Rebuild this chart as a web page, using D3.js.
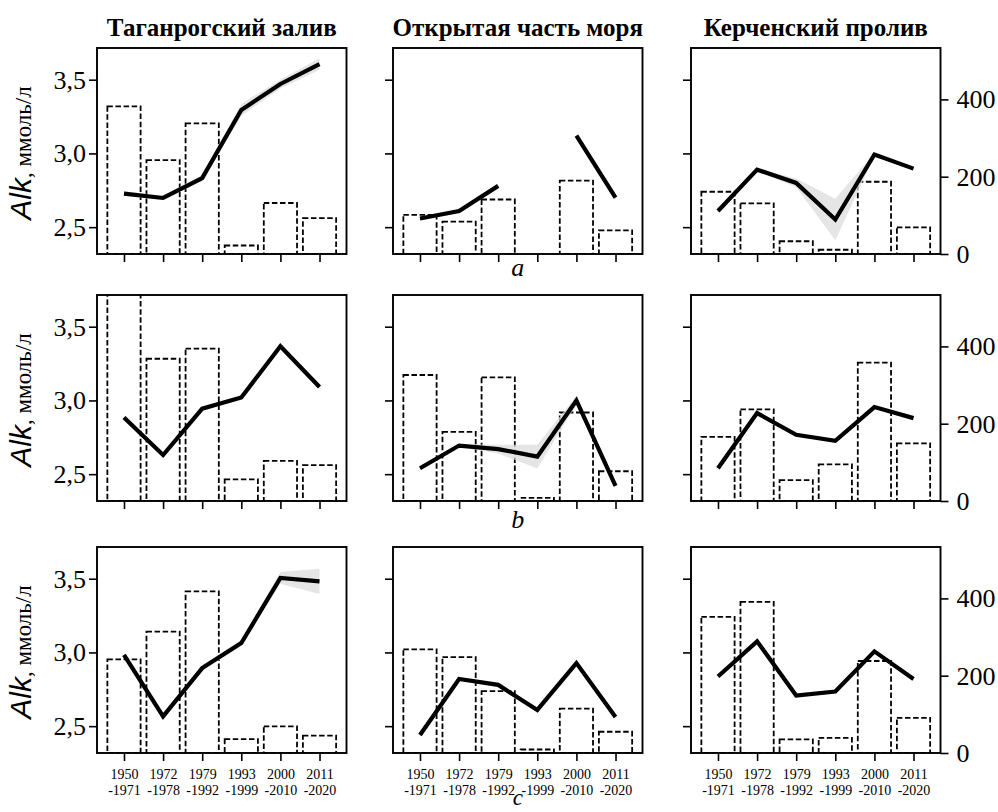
<!DOCTYPE html>
<html>
<head>
<meta charset="utf-8">
<script src="https://cdn.jsdelivr.net/npm/d3@7"></script>
<style>
  body { margin: 0; background: #fff; }
  svg { display: block; }
  .serif { font-family: "Liberation Serif", "DejaVu Serif", serif; }
  .sans { font-family: "Liberation Sans", "DejaVu Sans", sans-serif; }
</style>
</head>
<body>
<svg id="chart" width="998" height="812"></svg>
<script>
// ---------- DATA ----------
const regions = ["Таганрогский залив", "Открытая часть моря", "Керченский пролив"];
const rowLabels = ["a", "b", "c"];
const periodStart = ["1950", "1972", "1979", "1993", "2000", "2011"];
const periodEnd = ["-1971", "-1978", "-1992", "-1999", "-2010", "-2020"];
const alkTicks = [2.5, 3.0, 3.5];
const countTicks = [0, 200, 400];

// Alk means (mmol/l) per row: [Taganrog, Open sea, Kerch]
const alkA_tag   = [2.728, 2.698, 2.833, 3.295, 3.471, 3.606];
const alkA_open  = [2.559, 2.610, 2.780, null, 3.120, 2.700];
const alkA_kerch = [2.610, 2.890, 2.800, 2.552, 2.993, 2.897];
const alkB_tag   = [2.884, 2.630, 2.944, 3.020, 3.367, 3.091];
const alkB_open  = [2.540, 2.694, 2.670, 2.619, 3.000, 2.420];
const alkB_kerch = [2.540, 2.914, 2.767, 2.726, 2.955, 2.880];
const alkC_tag   = [2.984, 2.566, 2.894, 3.064, 3.505, 3.482];
const alkC_open  = [2.440, 2.820, 2.780, 2.610, 2.928, 2.562];
const alkC_kerch = [2.837, 3.075, 2.708, 2.735, 3.007, 2.820];

// confidence half-widths
const ciA_tag   = [0.015, 0.015, 0.02, 0.04, 0.03, 0.04];
const ciA_open  = [0.01, 0.01, 0.01, null, 0.01, 0.02];
const ciA_kerch = [0.01, 0.01, 0.03, 0.14, 0.01, 0.01];
const ciB_tag   = [0.01, 0.01, 0.01, 0.015, 0.015, 0.01];
const ciB_open  = [0.01, 0.01, 0.03, 0.08, 0.03, 0.02];
const ciB_kerch = [0.01, 0.01, 0.01, 0.01, 0.01, 0.01];
const ciC_tag   = [0.01, 0.01, 0.02, 0.02, 0.04, 0.085];
const ciC_open  = [0.01, 0.01, 0.015, 0.01, 0.015, 0.01];
const ciC_kerch = [0.01, 0.01, 0.015, 0.01, 0.01, 0.01];

// number of measurements (right axis)
const cntA_tag   = [382, 243, 338, 22, 132, 93];
const cntA_open  = [101, 84, 141, 0, 190, 61];
const cntA_kerch = [161, 131, 33, 11, 187, 69];
const cntB_tag   = [620, 368, 394, 56, 104, 93];
const cntB_open  = [326, 179, 320, 8, 229, 77];
const cntB_kerch = [166, 237, 54, 95, 358, 149];
const cntC_tag   = [242, 314, 418, 36, 69, 45];
const cntC_open  = [268, 248, 160, 9, 115, 55];
const cntC_kerch = [352, 391, 35, 39, 238, 91];

const alkRows = [[alkA_tag, alkA_open, alkA_kerch], [alkB_tag, alkB_open, alkB_kerch], [alkC_tag, alkC_open, alkC_kerch]];
const ciRows  = [[ciA_tag, ciA_open, ciA_kerch], [ciB_tag, ciB_open, ciB_kerch], [ciC_tag, ciC_open, ciC_kerch]];
const cntRows = [[cntA_tag, cntA_open, cntA_kerch], [cntB_tag, cntB_open, cntB_kerch], [cntC_tag, cntC_open, cntC_kerch]];

// ---------- LAYOUT ----------
const colX = [97, 393, 691];
const rowY = [48, 295, 547];
const pw = 249.5, ph = 206;

const svg = d3.select("#chart");

const x = d3.scaleLinear().domain([-0.69, 5.69]).range([0, pw]);
const yL = d3.scaleLinear().domain([2.318, 3.715]).range([ph, 0]);
const yR = d3.scaleLinear().domain([0, 533]).range([ph, 0]);

const defs = svg.append("defs");
defs.append("clipPath").attr("id", "clip").append("rect").attr("width", pw).attr("height", ph);

// Titles
regions.forEach((t, c) => {
  svg.append("text").attr("class", "serif")
    .attr("x", colX[c] + pw / 2).attr("y", 36)
    .attr("text-anchor", "middle")
    .style("font-weight", "bold").style("font-size", "25px")
    .text(t);
});

const barW = 0.85;

for (let r = 0; r < 3; r++) {
  for (let c = 0; c < 3; c++) {
    const g = svg.append("g").attr("transform", `translate(${colX[c]},${rowY[r]})`);
    const alk = alkRows[r][c], ci = ciRows[r][c], cnt = cntRows[r][c];
    const pts = alk.map((v, i) => ({ i, v, lo: v == null ? null : v - ci[i], hi: v == null ? null : v + ci[i], n: cnt[i] }));

    const inner = g.append("g").attr("clip-path", "url(#clip)");

    // bars
    inner.selectAll("rect.bar").data(pts.filter(d => d.n > 0)).join("rect")
      .attr("class", "bar")
      .attr("x", d => x(d.i - barW / 2))
      .attr("width", x(barW) - x(0))
      .attr("y", d => yR(d.n))
      .attr("height", d => yR(0) - yR(d.n))
      .attr("fill", "none")
      .attr("stroke", "#000")
      .attr("stroke-width", 1.8)
      .attr("stroke-dasharray", "5.5,2.6");

    // band
    const area = d3.area().defined(d => d.v != null)
      .x(d => x(d.i)).y0(d => yL(d.lo)).y1(d => yL(d.hi));
    inner.append("path").datum(pts).attr("d", area)
      .attr("fill", "#dcdcdc").attr("fill-opacity", 0.75).attr("stroke", "none");

    // line
    const line = d3.line().defined(d => d.v != null).x(d => x(d.i)).y(d => yL(d.v));
    inner.append("path").datum(pts).attr("d", line)
      .attr("fill", "none").attr("stroke", "#000").attr("stroke-width", 4.2)
      .attr("stroke-linejoin", "miter");

    // left axis
    const axL = d3.axisLeft(yL).tickValues(alkTicks).tickSize(8).tickPadding(3)
      .tickFormat(c === 0 ? (d => d3.format(".1f")(d).replace(".", ",")) : () => "");
    const gl = g.append("g").call(axL);
    gl.attr("font-family", null);
    gl.select(".domain").remove();
    gl.selectAll(".tick line").attr("stroke-width", 1.6);
    gl.selectAll(".tick text").attr("class", "serif").style("font-size", "26px").attr("fill", "#000");

    // right axis
    if (c === 2) {
      const axR = d3.axisRight(yR).tickValues(countTicks).tickSize(8).tickPadding(8);
      const gr = g.append("g").attr("transform", `translate(${pw},0)`).call(axR);
      gr.attr("font-family", null);
      gr.select(".domain").remove();
      gr.selectAll(".tick line").attr("stroke-width", 1.6);
      gr.selectAll(".tick text").attr("class", "serif").style("font-size", "26px").attr("fill", "#000");
    }

    // bottom axis
    const axB = d3.axisBottom(x).tickValues(d3.range(periodStart.length)).tickSize(8).tickFormat(() => "");
    const gb = g.append("g").attr("transform", `translate(0,${ph})`).call(axB);
    gb.attr("font-family", null);
    gb.select(".domain").remove();
    gb.selectAll(".tick line").attr("stroke-width", 1.6);
    if (r === 2) {
      gb.selectAll(".tick").each(function (d) {
        const t = d3.select(this).append("text").attr("class", "serif")
          .style("font-size", "14px").attr("fill", "#000")
          .attr("text-anchor", "middle");
        t.append("tspan").attr("x", 0).attr("y", 26).text(periodStart[d]);
        t.append("tspan").attr("x", 0).attr("y", 42).text(periodEnd[d]);
      });
    }

    // frame
    g.append("rect").attr("width", pw).attr("height", ph)
      .attr("fill", "none").attr("stroke", "#000").attr("stroke-width", 1.9);

    // y label
    if (c === 0) {
      const lbl = svg.append("text")
        .attr("transform", `translate(31,${rowY[r] + ph / 2 + 2}) rotate(-90)`)
        .attr("text-anchor", "middle")
        .attr("fill", "#000");
      lbl.append("tspan").attr("class", "sans")
        .style("font-style", "italic").style("font-size", "30px").text("Alk");
      lbl.append("tspan").attr("class", "serif").style("font-size", "23px").text(", ммоль/л");
    }
  }
}

// row letters
const letterY = [276, 528, 805];
const letterSize = [26, 26, 23];
rowLabels.forEach((l, r) => {
  svg.append("text").attr("class", "serif")
    .attr("x", colX[1] + pw / 2).attr("y", letterY[r])
    .attr("text-anchor", "middle")
    .style("font-style", "italic").style("font-size", letterSize[r] + "px")
    .text(l);
});
</script>
</body>
</html>
